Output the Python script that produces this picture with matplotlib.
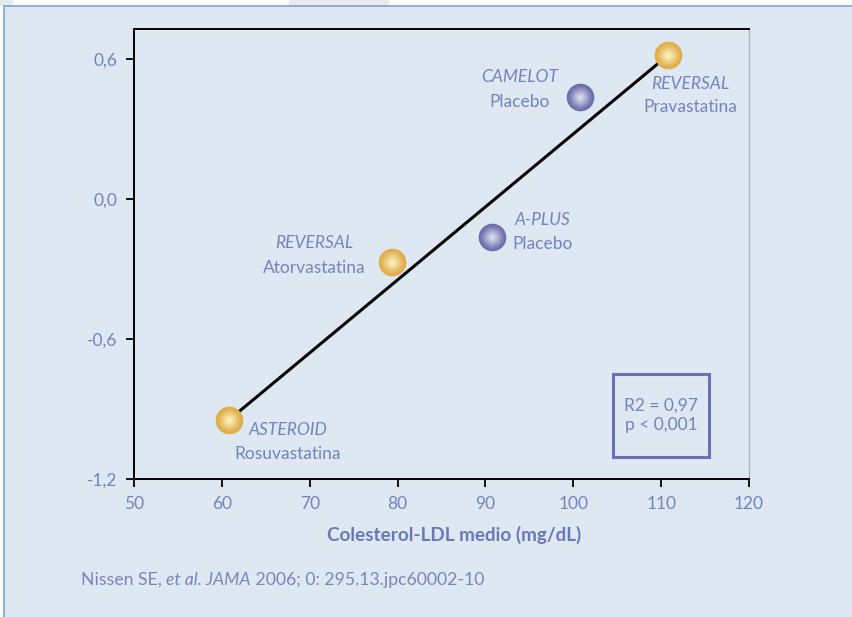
import numpy as np
import matplotlib.pyplot as plt
from matplotlib.patches import Rectangle, Polygon
from matplotlib.lines import Line2D
from matplotlib.colors import to_rgb

plt.rcParams['font.family'] = ['Lato', 'DejaVu Sans']

# data
studies = ["ASTEROID", "REVERSAL", "A-PLUS", "CAMELOT", "REVERSAL"]
arms = ["Rosuvastatina", "Atorvastatina", "Placebo", "Placebo", "Pravastatina"]
ldl = [60.8, 79.4, 90.7, 100.8, 110.8]
change = [-0.947, -0.27, -0.163, 0.437, 0.617]
is_statin = [True, True, False, False, True]
fit_x = [60.8, 110.8]
fit_y = [-0.947, 0.617]
xticks = [50, 60, 70, 80, 90, 100, 110, 120]
yticks = [-1.2, -0.6, 0.0, 0.6]
ytick_labels = ["-1,2", "-0,6", "0,0", "0,6"]
stats_text = "R2 = 0,97\np < 0,001"

# label offsets in pixels (dx, dy of study name, dy of arm)
label_offsets = [(59, -10, -34), (-78, 19, -6), (51, 17, -7), (-61, 20, -5), (22, -29, -52)]

BG = "#dde8f2"
TXT = "#7483bd"
GOLD = ("#e0ac45", "#fbf1bf")
BLUE = ("#6a6dab", "#dcdcee")
FS = 12.5

fig = plt.figure(figsize=(8.52, 6.17), dpi=100)
fig.patch.set_facecolor("white")

# light blue panel, framed only at top and left
x0, y0 = 4 / 852, 1 - 6 / 617
fig.patches.append(Rectangle((x0, 0), 1 - x0, y0, transform=fig.transFigure,
                             facecolor=BG, lw=0, zorder=-2))
fig.lines.append(Line2D([x0, x0, 1], [0, y0, y0], transform=fig.transFigure, color="#7fa5cc", lw=1.2))
fig.patches.append(Polygon([(290 / 852, 1), (390 / 852, 1), (388 / 852, y0), (288 / 852, y0)],
                           closed=True, transform=fig.transFigure, facecolor="#e8ebee", lw=0, zorder=-3))
fig.patches.append(Polygon([(0, 1), (14 / 852, 1), (12 / 852, y0), (0, y0)],
                           closed=True, transform=fig.transFigure, facecolor="#e8ebee", lw=0, zorder=-3))

ax = fig.add_axes([134 / 852, 1 - 479 / 617, (749 - 134) / 852, (479 - 29) / 617])
ax.set_facecolor(BG)
ax.set_xlim(50, 120)
ax.set_ylim(-1.2, 0.729)

ax.plot(fit_x, fit_y, color="black", lw=2.2, zorder=2, solid_capstyle="butt")


def shaded_ball(x, y, colors):
    # fake radial gradient by stacking shrinking, lighter discs
    c0 = np.array(to_rgb(colors[0]))
    c1 = np.array(to_rgb(colors[1]))
    n = 14
    for i in range(n):
        f = i / (n - 1)
        size = 390 * (1 - f) ** 1.3 + 4
        col = c0 + (c1 - c0) * f ** 1.6
        ax.scatter([x], [y], s=size, color=col, lw=0, zorder=3 + i * 0.01)


for i in range(len(ldl)):
    shaded_ball(ldl[i], change[i], GOLD if is_statin[i] else BLUE)
    dx, dy1, dy2 = label_offsets[i]
    ax.annotate(studies[i], (ldl[i], change[i]), xytext=(dx, dy1), textcoords="offset pixels",
                ha="center", va="center", fontsize=FS, style="italic", color=TXT)
    ax.annotate(arms[i], (ldl[i], change[i]), xytext=(dx, dy2), textcoords="offset pixels",
                ha="center", va="center", fontsize=FS, color=TXT)

# stats box
ax.add_patch(Rectangle((104.5, -1.106), 11.0, 0.356, facecolor="none", edgecolor="#6a70b0", lw=2.2, zorder=4))
ax.text(110.0, -0.928, stats_text, ha="center", va="center", fontsize=FS, color=TXT, linespacing=1.3)

ax.set_xticks(xticks)
ax.set_yticks(yticks)
ax.set_yticklabels(ytick_labels)
ax.tick_params(direction="out", length=6, width=1.3, color="black", labelcolor=TXT, labelsize=FS, pad=6)
for side in ["left", "bottom", "top"]:
    ax.spines[side].set_color("black")
    ax.spines[side].set_linewidth(1.4)
ax.spines["right"].set_color("#aab2ba")
ax.spines["right"].set_linewidth(1.0)

ax.set_xlabel("Colesterol-LDL medio (mg/dL)", fontsize=13.6, fontweight="bold", color="#6a78b5",
              labelpad=10, x=0.521)

# footnote with an italic middle part, pieces chained one after another
pieces = [("Nissen SE, ", "normal"), ("et al. JAMA", "italic"), (" 2006; 0: 295.13.jpc60002-10", "normal")]
t = fig.text(81 / 852, 1 - 580 / 617, pieces[0][0], fontsize=12.7, color="#7a86bb", va="center")
for txt, st in pieces[1:]:
    t = ax.annotate(txt, xy=(1, 0), xycoords=t, va="bottom", ha="left", fontsize=12.7,
                    color="#7a86bb", style=st, annotation_clip=False)

fig.savefig("out.png", dpi=100, facecolor=fig.get_facecolor())
